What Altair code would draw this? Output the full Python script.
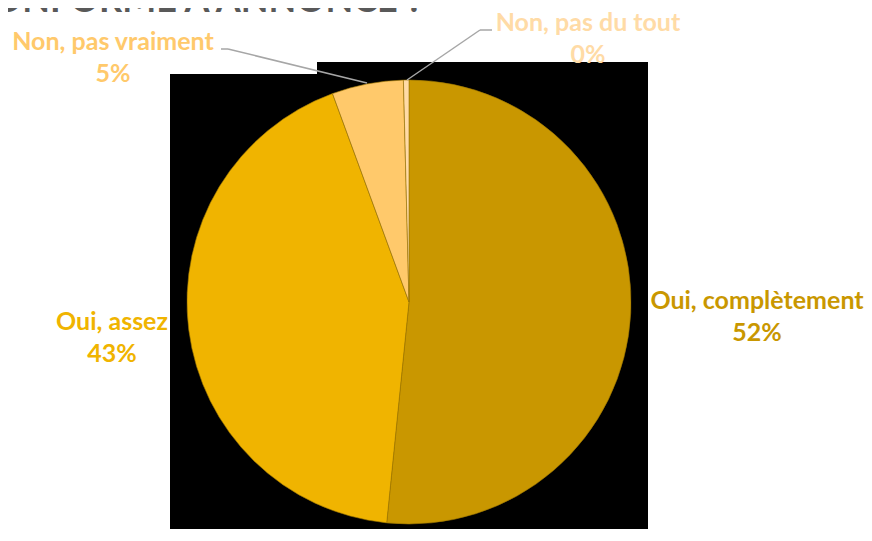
import altair as alt
import pandas as pd

# ---- data ----
categories = ["Oui, complètement", "Oui, assez", "Non, pas vraiment", "Non, pas du tout"]
values = [51.6, 42.8, 5.2, 0.4]
pct_labels = ["52%", "43%", "5%", "0%"]
colors = ["#C99700", "#F0B400", "#FFC96B", "#FFDBA6"]
title_text = "CONFORME À ANNONCE ?"

# ---- layout (svg pixel coordinates; page offset 8px) ----
OFF = 8
label_pos = [(757, 301), (112, 322), (113, 42), (588, 23)]  # name line centers (page coords)
line_gap = 32
FONT = "Lato"
FS = 25

df = pd.DataFrame({
    "category": categories,
    "value": values,
    "ord": list(range(len(categories))),
    "pct": pct_labels,
    "lx": [p[0] - OFF for p in label_pos],
    "ly": [p[1] - OFF for p in label_pos],
})
df["ly2"] = df["ly"] + line_gap

color_scale = alt.Scale(domain=categories, range=colors)

W, H = 872 - 2 * OFF, 541 - 2 * OFF - 4

base = alt.Chart(df)

bg1 = base.mark_rect(color="black").encode(
    x=alt.value(170 - OFF), x2=alt.value(648 - OFF),
    y=alt.value(74 - OFF), y2=alt.value(H))
bg2 = base.mark_rect(color="black").encode(
    x=alt.value(317 - OFF), x2=alt.value(648 - OFF),
    y=alt.value(62 - OFF), y2=alt.value(76 - OFF))

pie = base.mark_arc(radius=222, stroke="#9C7600", strokeWidth=0.6).encode(
    theta=alt.Theta("value:Q", stack=True),
    order=alt.Order("ord:Q"),
    color=alt.Color("category:N", scale=color_scale, legend=None),
    x=alt.value(409 - OFF), y=alt.value(302 - OFF),
)

names = base.mark_text(font=FONT, fontSize=FS, fontWeight="bold", align="center", baseline="middle").encode(
    x=alt.X("lx:Q", scale=None), y=alt.Y("ly:Q", scale=None),
    text="category:N",
    color=alt.Color("category:N", scale=color_scale, legend=None),
)
pcts = base.mark_text(font=FONT, fontSize=FS, fontWeight="bold", align="center", baseline="middle").encode(
    x=alt.X("lx:Q", scale=None), y=alt.Y("ly2:Q", scale=None),
    text="pct:N",
    color=alt.Color("category:N", scale=color_scale, legend=None),
)

LC = "#A6A6A6"
lead = [
    ((221, 49), (228, 49)), ((228, 49), (367, 83)),
    ((492, 30), (480, 30)), ((480, 30), (407, 80)),
]
rules = []
for (a, b) in lead:
    rules.append(alt.Chart(df.head(1)).mark_rule(color=LC, strokeWidth=1.5).encode(
        x=alt.value(a[0] - OFF), y=alt.value(a[1] - OFF),
        x2=alt.value(b[0] - OFF), y2=alt.value(b[1] - OFF)))

title = alt.Chart(df.head(1)).mark_text(font=FONT, fontSize=36, fontWeight="bold", color="#595959",
                                        align="right", baseline="alphabetic").encode(
    x=alt.value(423 - OFF), y=alt.value(12 - OFF), text=alt.value(title_text))

chart = alt.layer(bg1, bg2, pie, *rules, names, pcts, title).properties(
    width=W, height=H, autosize=alt.AutoSizeParams(type="none"), padding=0,
    background="white"
).configure_view(stroke=None)

chart.save("out.html", embed_options={"renderer": "svg", "actions": False})
